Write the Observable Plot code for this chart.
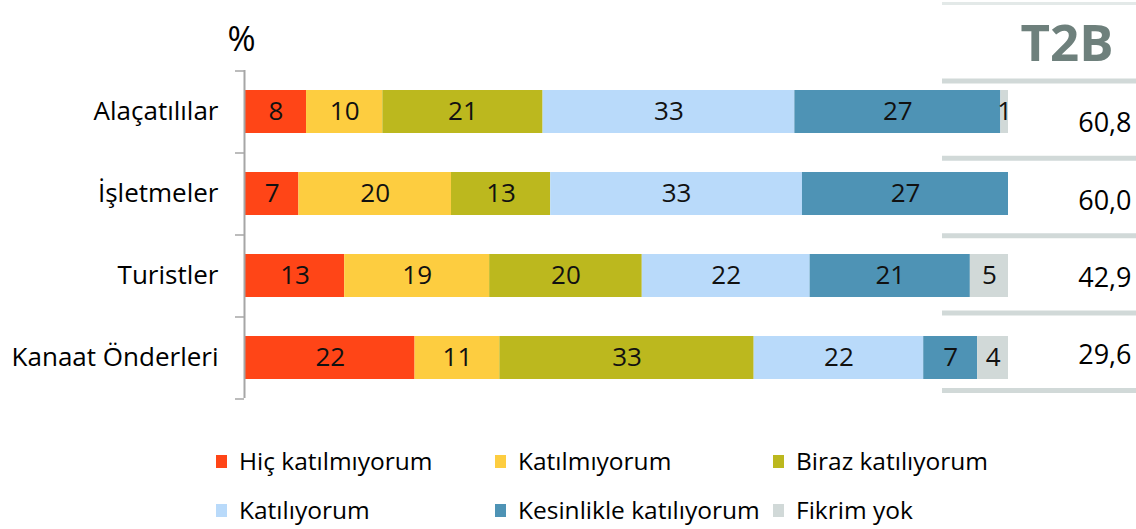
<!DOCTYPE html>
<html><head><meta charset="utf-8">
<script src="https://cdn.jsdelivr.net/npm/d3@7"></script>
<script src="https://cdn.jsdelivr.net/npm/@observablehq/plot@0.6"></script>
<style>
body{margin:0;background:#fff;font-family:"Open Sans",sans-serif;}
#wrap{position:relative;width:1136px;height:529px;overflow:hidden;}
#main{position:absolute;left:0;top:0;}
#t2b{position:absolute;left:942px;top:0;}
#legend{position:absolute;left:216px;top:437px;display:grid;grid-template-columns:279px 278px 300px;grid-auto-rows:49px;}
.item{display:flex;align-items:center;font-size:24.5px;line-height:1;color:#000;white-space:nowrap;}
.sw{width:11px;height:13px;margin-right:12px;flex:none;}
</style></head>
<body>
<div id="wrap"><div id="main"></div><div id="t2b"></div><div id="legend"></div></div>
<script>
const categories = ["Alaçatılılar", "İşletmeler", "Turistler", "Kanaat Önderleri"];
const seriesNames = ["Hiç katılmıyorum", "Katılmıyorum", "Biraz katılıyorum", "Katılıyorum", "Kesinlikle katılıyorum", "Fikrim yok"];
const colors = ["#FF4517", "#FDCD40", "#BCB81E", "#B9DAFA", "#4E93B5", "#D1D9D8"];
const hicKatilmiyorum = [8, 7, 13, 22];
const katilmiyorum = [10, 20, 19, 11];
const birazKatiliyorum = [21, 13, 20, 33];
const katiliyorum = [33, 33, 22, 22];
const kesinlikleKatiliyorum = [27, 27, 21, 7];
const fikrimYok = [1, 0, 5, 4];
const t2b = [60.8, 60.0, 42.9, 29.6];

const seriesValues = [hicKatilmiyorum, katilmiyorum, birazKatiliyorum, katiliyorum, kesinlikleKatiliyorum, fikrimYok];
const rows = seriesNames.flatMap((s, i) => categories.map((c, j) => ({category: c, series: s, value: seriesValues[i][j]})));

const axisGray = "#a6a6a6";
const main = Plot.plot({
  width: 1136, height: 415,
  marginLeft: 245, marginRight: 128, marginTop: 70, marginBottom: 17,
  style: {fontFamily: "Open Sans", background: "transparent", overflow: "visible"},
  x: {domain: [0, 1], axis: null},
  y: {domain: categories, paddingInner: 0.476, paddingOuter: 0.238, axis: null},
  color: {domain: seriesNames, range: colors},
  marks: [
    Plot.barX(rows, Plot.stackX({offset: "normalize", x: "value", y: "category", z: "series", fill: "series"})),
    Plot.text(rows.filter(d => d.value > 0), Plot.stackX({offset: "normalize", x: "value", y: "category", z: "series",
      text: d => String(d.value), fontSize: 26, fill: "#111"})),
    Plot.ruleX([0], {stroke: axisGray, strokeWidth: 2, dx: -1}),
    Plot.axisY({tickSize: 0, tickPadding: 27, fontSize: 26, fill: "#000", label: null}),
    Plot.axisY({tickSize: 9, tickFormat: () => "", stroke: axisGray, strokeWidth: 1.5, dy: -41, dx: -1, label: null}),
    Plot.axisY([categories[categories.length - 1]], {tickSize: 9, tickFormat: () => "", stroke: axisGray, strokeWidth: 1.5, dy: 41, dx: -1, label: null}),
    Plot.text(["%"], {frameAnchor: "top-left", textAnchor: "middle", lineAnchor: "middle", dx: -4, dy: -30, fontSize: 34, fill: "#000"})
  ]
});
document.getElementById("main").appendChild(main);

const tplot = Plot.plot({
  width: 194, height: 400, marginLeft: 0, marginRight: 0, marginTop: 3, marginBottom: 10,
  style: {fontFamily: "Open Sans", background: "transparent", overflow: "visible"},
  x: {domain: [0, 1], axis: null},
  y: {domain: [categories.length, -1], axis: null},
  marks: [
    Plot.ruleY([-1], {stroke: "#e3e9e8", strokeWidth: 3}),
    Plot.ruleY(d3.range(0, categories.length + 1), {stroke: "#d1d9d8", strokeWidth: 5}),
    Plot.text(t2b, {x: 1, y: (d, i) => i + 0.5, text: d => d.toFixed(1).replace(".", ","), textAnchor: "end", dx: -5, dy: 4, fontSize: 27, fill: "#000"}),
    Plot.text(["T2B"], {x: 1, y: -0.5, textAnchor: "end", dx: -23, dy: 2, fontSize: 51, fontWeight: "bold", fill: "#6E807C"})
  ]
});
document.getElementById("t2b").appendChild(tplot);

const legend = document.getElementById("legend");
seriesNames.forEach((s, i) => {
  const it = document.createElement("div");
  it.className = "item";
  const sw = document.createElement("span");
  sw.className = "sw";
  sw.style.background = colors[i];
  const tx = document.createElement("span");
  tx.textContent = s;
  it.appendChild(sw); it.appendChild(tx);
  legend.appendChild(it);
});
</script>
</body></html>
